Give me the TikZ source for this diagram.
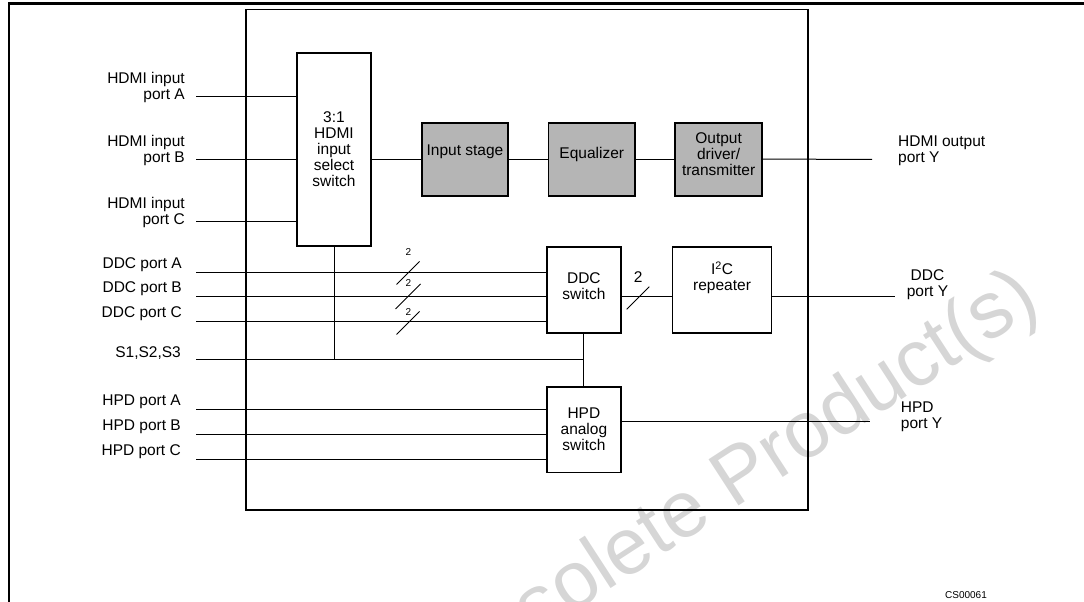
\documentclass[tikz,border=0pt]{standalone}
\usepackage{fontspec}
\setmainfont{Liberation Sans}
\usetikzlibrary{positioning}
\definecolor{stagegray}{RGB}{181,181,181}
\definecolor{wmgray}{RGB}{214,214,214}

\begin{document}
\begin{tikzpicture}[
  x=1pt, y=-1pt,
  font=\fontsize{15.5}{16}\selectfont,
  blk/.style={draw, line width=1.8pt, inner sep=0pt, align=center},
  stage/.style={blk, fill=stagegray, minimum width=86.6pt, minimum height=73pt},
  sw/.style={blk, minimum width=73.7pt, minimum height=86.3pt},
  boxtext/.style={inner sep=0pt, align=center},
  lbl/.style={inner sep=0pt, align=right},
  wire/.style={line width=1pt},
  bus/.style={font=\fontsize{10}{10}\selectfont, inner sep=0pt}
]
\useasboundingbox (0,0) rectangle (1084,602);

% watermark
\node[text=wmgray, font=\fontsize{80}{80}\selectfont, inner sep=0pt,
      rotate=33, anchor=base west] (wmark) at (446,696) {Obsolete Product(s)};

% page frame and chip outline
\draw[line width=2.8pt] (9,602) -- (9,3.5) -- (1084,3.5);
\draw[line width=1.3pt] (246,9.5) rectangle (808,510);

% blocks
\node[blk, minimum width=74pt, minimum height=193pt] (mux) at (334,149.5)
  {3:1\\HDMI\\input\\select\\switch};
\node[stage] (inp) at (465,159.2) {};
\node[stage, right=38.4pt of inp] (eq) {};
\node[stage, right=38.4pt of eq] (drv) {};
\node[boxtext] (inptxt) at ([yshift=7pt]inp.center) {Input stage};
\node[boxtext] (eqtxt) at ([yshift=5pt]eq.center) {Equalizer};
\node[boxtext] (drvtxt) at ([yshift=5.5pt]drv.center) {Output\\driver/\\transmitter};

\node[sw] (dsw) at (583.9,290.2) {};
\node[boxtext] (dswtxt) at ([yshift=3.7pt]dsw.center) {DDC\\switch};
\node[blk, minimum width=99pt, minimum height=86.3pt, right=50pt of dsw] (rep) {};
\node[boxtext] (reptxt) at ([yshift=12pt]rep.center) {I\textsuperscript{2}C\\repeater};
\node[sw, minimum height=85.7pt, below=51.7pt of dsw] (hsw) {HPD\\analog\\switch};

% HDMI inputs
\foreach \y/\p in {96.7/A,159.3/B,221/C}{
  \node[lbl, anchor=south east] (hdmi\p) at (185,\y+6.6) {HDMI input\\port \p};
  \coordinate (hin\p) at (196,\y);
  \draw[wire] (hin\p) -- (hin\p -| mux.west);
}

% DDC inputs
\foreach \y/\p in {272/A,296.7/B,321.7/C}{
  \node[lbl, anchor=base east] (ddc\p) at (182,\y-3.8) {DDC port \p};
  \coordinate (din\p) at (196,\y);
  \draw[wire] (din\p) -- (din\p -| dsw.west);
}
\foreach \y/\h/\d [count=\i] in {273/11.5/21, 296.5/12.5/13.2, 323/11.5/11.3}{
  \draw[wire] (408,\y) ++(-\h,\h) -- ++(2*\h,-2*\h);
  \node[bus] (bw\i) at (408.5,\y-\d) {2};
}

% select lines
\node[lbl, anchor=base east] (sel) at (181,357) {S1,S2,S3};
\coordinate (selin) at (196,359);
\draw[wire] (selin) -- (selin -| dsw.south);
\draw[wire] (mux.south) -- (mux.south |- selin);
\draw[wire] (dsw.south) -- (hsw.north);

% HPD inputs
\foreach \y/\p in {409.3/A,434.3/B,459.3/C}{
  \node[lbl, anchor=base east] (hpd\p) at (181,\y-3.8) {HPD port \p};
  \coordinate (hpin\p) at (196,\y);
  \draw[wire] (hpin\p) -- (hpin\p -| hsw.west);
}

% HDMI path
\draw[wire] (mux.east |- inp.west) -- (inp.west);
\draw[wire] (inp) -- (eq);
\draw[wire] (eq) -- (drv);
\coordinate (hdmiY) at (872,159.3);
\draw[wire] (drv.east) -- (hdmiY);
\node[lbl, align=left, anchor=south west] (hdmiout) at (898,166) {HDMI output\\port Y};

% DDC path
\draw[wire] (dinB -| dsw.east) -- (dinB -| rep.west);
\draw[wire] (638,298) ++(-11.3,11.3) -- ++(22.6,-22.6);
\node[inner sep=0pt] (bw4) at (638.3,277.3) {2};
\coordinate (ddcY) at (895,296.7);
\draw[wire] (rep.east |- ddcY) -- (ddcY);
\node[lbl, align=center, anchor=south] (ddcout) at (927.5,300) {DDC\\port Y};

% HPD path
\coordinate (hpdY) at (870,421.7);
\draw[wire] (hpdY -| hsw.east) -- (hpdY);
\node[lbl, align=left, anchor=south west] (hpdout) at (900.7,431.7) {HPD\\port Y};

\node[bus, anchor=base] (figid) at (966,598) {CS00061};
\end{tikzpicture}
\end{document}
